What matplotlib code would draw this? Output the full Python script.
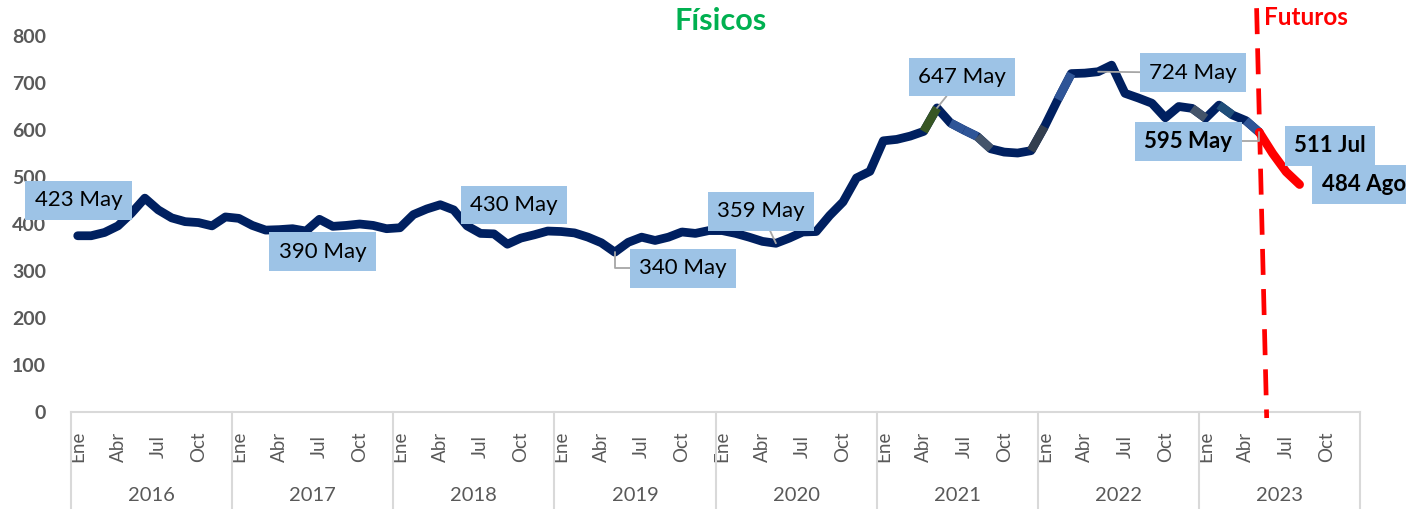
import numpy as np
import matplotlib.pyplot as plt
import matplotlib.transforms as mtransforms

plt.rcParams['font.family'] = ['Lato', 'DejaVu Sans']

# ---- data -------------------------------------------------------------
years = ["2016", "2017", "2018", "2019", "2020", "2021", "2022", "2023"]
month_ticks = ["Ene", "Abr", "Jul", "Oct"]

# physical prices, monthly from Ene 2016 to May 2023
fisicos = [
    375, 375, 382, 396, 423, 455, 430, 413, 405, 403, 396, 415,   # 2016
    412, 397, 387, 388, 390, 385, 410, 395, 397, 400, 397, 390,   # 2017
    392, 420, 432, 441, 430, 396, 380, 379, 357, 370, 377, 385,   # 2018
    384, 381, 372, 360, 340, 361, 372, 365, 372, 383, 380, 386,   # 2019
    386, 380, 372, 363, 359, 370, 383, 384, 418, 447, 498, 512,   # 2020
    577, 580, 587, 597, 647, 615, 600, 586, 560, 553, 551, 556,   # 2021
    607, 665, 720, 721, 724, 738, 678, 668, 657, 626, 650, 646,   # 2022
    625, 653, 632, 620, 595,                                      # 2023
]
# futures, May 2023 to Ago 2023
futuros_start = 88
futuros = [595, 550, 511, 484]

# labelled points: (month index, text)
labels_fis = [(4, "423 May"), (16, "390 May"), (28, "430 May"), (40, "340 May"),
              (52, "359 May"), (64, "647 May"), (76, "724 May"), (88, "595 May")]
labels_fut = [(90, "511 Jul"), (91, "484 Ago")]

# ---- styling ----------------------------------------------------------
navy = "#002060"
seg_colors = {63: "#375623", 65: "#2F5597", 66: "#2F5597", 67: "#44546A",
              71: "#333F4F", 73: "#2F5597", 83: "#44546A", 85: "#1F4E79",
              87: "#2F5597"}
# label offsets in pixels: dx, dy, bold, leader style
label_style = {
    4: (-53, 13, False, None),
    16: (30, -23, False, None),
    28: (60, 5, False, None),
    40: (68, -16, False, "angle,angleA=0,angleB=90,rad=0"),
    52: (-15, 32, False, "arc3"),
    64: (25, 31, False, "arc3"),
    76: (95, -1, False, "arc3"),
    88: (-71, -9, True, "angle,angleA=0,angleB=90,rad=0"),
    90: (44, 26, True, None),
    91: (22, 0, True, None),
}

fig = plt.figure(figsize=(14.06, 5.09), dpi=100)
ax = fig.add_axes([71 / 1406, 1 - 412 / 509, (1360 - 71) / 1406, (412 - 36) / 509])

n_months = len(years) * 12
x_f = np.arange(len(fisicos)) + 0.5
x_fut = np.arange(futuros_start, futuros_start + len(futuros)) + 0.5

ax.plot(x_f, fisicos, color=navy, lw=6.3, solid_joinstyle="round",
        solid_capstyle="round", zorder=3)
for i, c in seg_colors.items():
    ax.plot(x_f[i:i + 2], fisicos[i:i + 2], color=c, lw=6.3,
            solid_capstyle="butt", zorder=3.5)
ax.plot(x_fut, futuros, color="#FF0000", lw=6.3, solid_joinstyle="round",
        solid_capstyle="round", zorder=4)

# data labels
def add_label(i, value, text):
    dx, dy, bold, conn = label_style[i]
    ha = "left" if i == 91 else "center"
    arrow = None
    if conn:
        arrow = dict(arrowstyle="-", color="#A6A6A6", lw=1.3,
                     shrinkA=0, shrinkB=0, connectionstyle=conn)
    ax.annotate(text, xy=(i + 0.5, value), xytext=(dx, dy),
                textcoords="offset pixels", ha=ha, va="center",
                fontsize=16, fontweight="bold" if bold else "normal",
                color="black", annotation_clip=False, zorder=6,
                bbox=dict(boxstyle="square,pad=0.42", fc="#9DC3E6", ec="none"),
                arrowprops=arrow)

for i, t in labels_fis:
    add_label(i, fisicos[i], t)
for i, t in labels_fut:
    add_label(i, futuros[i - futuros_start], t)

# axes
ax.set_xlim(0, n_months)
ax.set_ylim(0, 800)
ax.set_yticks(range(0, 801, 100))
ax.tick_params(axis="y", length=0, pad=18, labelsize=14, labelcolor="#595959")
for lab in ax.get_yticklabels():
    lab.set_fontweight("bold")

xt = [y * 12 + m + 0.5 for y in range(len(years)) for m in (0, 3, 6, 9)]
ax.set_xticks(xt)
ax.set_xticklabels(month_ticks * len(years), rotation=90, va="center", ha="center")
ax.tick_params(axis="x", length=0, pad=25, labelsize=13.5, labelcolor="#595959")

for s in ["left", "right", "top"]:
    ax.spines[s].set_visible(False)
ax.spines["bottom"].set_color("#D9D9D9")
ax.spines["bottom"].set_linewidth(1.5)

trans = mtransforms.blended_transform_factory(ax.transData, ax.transAxes)
for k in range(len(years) + 1):
    ax.plot([k * 12, k * 12], [0, -0.26], color="#D9D9D9", lw=1.5,
            transform=trans, clip_on=False)
for k, yr in enumerate(years):
    ax.text(k * 12 + 6, -0.221, yr, transform=trans, ha="center", va="center",
            fontsize=14.5, color="#595959")

# futures divider and headings
ax.plot([88.3, 89.05], [1.074, -0.016], color="#FF0000", lw=3.4,
        dashes=(5.5, 3), transform=trans, clip_on=False, zorder=5)
ax.text(88.85, 1.05, "Futuros", transform=trans, ha="left", va="center",
        fontsize=17.5, fontweight="bold", color="#FF0000")
fig.text(721 / 1406, 1 - 21 / 509, "Físicos", ha="center", va="center",
         fontsize=22, fontweight="bold", color="#00B050")

fig.savefig("out.png", dpi=100)
